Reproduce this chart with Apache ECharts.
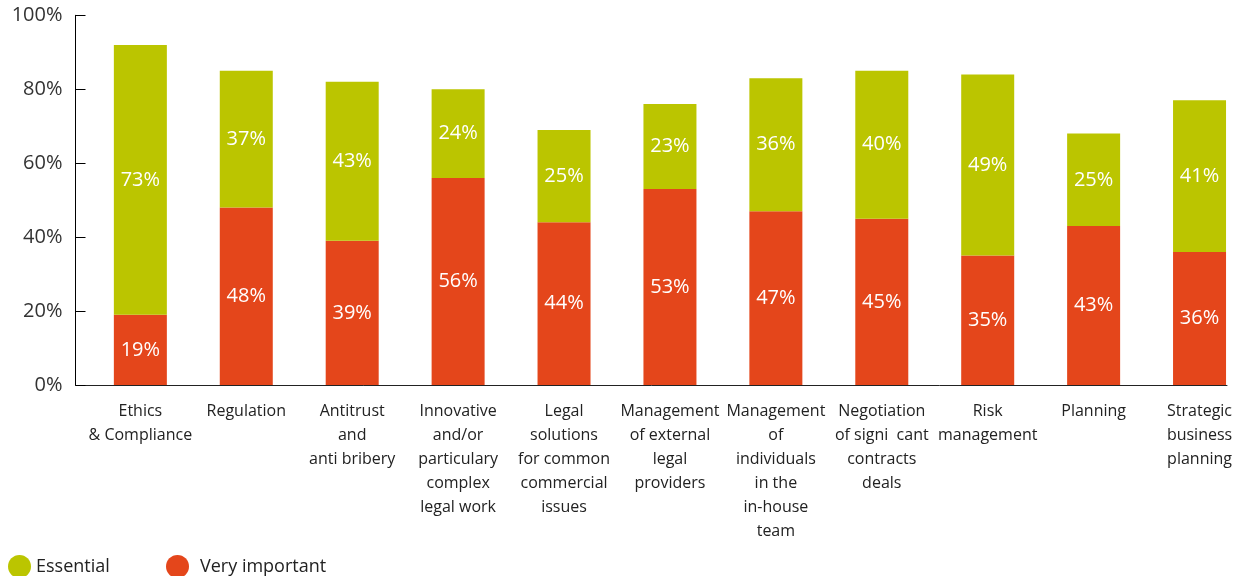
<!DOCTYPE html>
<html>
<head>
<meta charset="utf-8">
<script src="https://cdn.jsdelivr.net/npm/echarts@6/dist/echarts.min.js"></script>
<style>
html,body{margin:0;padding:0;background:#fff;}
#chart{width:1241px;height:576px;}
</style>
</head>
<body>
<div id="chart"></div>
<script>
var categories = [
  "Ethics\n& Compliance",
  "Regulation",
  "Antitrust\nand\nanti bribery",
  "Innovative\nand/or\nparticulary\ncomplex\nlegal work",
  "Legal\nsolutions\nfor common\ncommercial\nissues",
  "Management\nof external\nlegal\nproviders",
  "Management\nof\nindividuals\nin the\nin-house\nteam",
  "Negotiation\nof signi  cant\ncontracts\ndeals",
  "Risk\nmanagement",
  "Planning",
  "Strategic\nbusiness\nplanning"
];
var veryImportant = [19, 48, 39, 56, 44, 53, 47, 45, 35, 43, 36];
var essential = [73, 37, 43, 24, 25, 23, 36, 40, 49, 25, 41];
var yTicks = [0, 20, 40, 60, 80, 100];

var GREEN = '#bbc500';
var RED = '#e4461b';
var FONT = '"Open Sans", "Noto Sans", sans-serif';

var chart = echarts.init(document.getElementById('chart'), null, {renderer: 'canvas'});
var barLabel = {
  show: true, position: 'inside', color: '#fff',
  fontFamily: FONT, fontSize: 20, formatter: '{c}%'
};
var legendText = {fontSize: 18, color: '#222', fontFamily: FONT};
chart.setOption({
  animation: false,
  textStyle: {fontFamily: FONT},
  legend: [
    {
      data: ['Essential'], left: 3, top: 550,
      icon: 'circle', itemWidth: 23, itemHeight: 23,
      textStyle: legendText
    },
    {
      data: ['Very important'], left: 161, top: 550,
      icon: 'circle', itemWidth: 23, itemHeight: 23,
      textStyle: Object.assign({padding: [0, 0, 0, 6]}, legendText)
    }
  ],
  grid: [
    {left: 87.4, width: 1165.1, top: 15.3, height: 369.7, outerBoundsMode: 'none', containLabel: false},
    {left: 75.5, width: 1151.5, top: 15.3, height: 369.7, outerBoundsMode: 'none', containLabel: false}
  ],
  xAxis: [
    {
      type: 'category', gridIndex: 0, data: categories,
      axisLine: {show: false}, axisTick: {show: false},
      axisLabel: {
        interval: 0, margin: 14, fontSize: 16, lineHeight: 24,
        color: '#222', fontFamily: FONT, align: 'center'
      }
    },
    {
      type: 'value', gridIndex: 1, min: 0, max: 1,
      axisLine: {show: true, lineStyle: {color: '#222', width: 1}},
      axisTick: {show: false}, axisLabel: {show: false}, splitLine: {show: false}
    }
  ],
  yAxis: [
    {
      type: 'value', gridIndex: 0, min: 0, max: 100, interval: 20,
      show: false, splitLine: {show: false}
    },
    {
      type: 'value', gridIndex: 1, min: yTicks[0], max: yTicks[yTicks.length - 1], interval: 20,
      axisLine: {show: true, lineStyle: {color: '#000', width: 1}},
      axisTick: {show: true, inside: true, length: 10, lineStyle: {color: '#000'}},
      axisLabel: {formatter: '{value}%', fontSize: 20, color: '#333', margin: 13,
                  padding: [10, 0, 0, 0], fontFamily: FONT},
      splitLine: {show: false}
    }
  ],
  series: [
    {
      name: 'Very important', type: 'bar', stack: 'total',
      xAxisIndex: 0, yAxisIndex: 0,
      barWidth: 53, data: veryImportant,
      itemStyle: {color: RED}, label: barLabel
    },
    {
      name: 'Essential', type: 'bar', stack: 'total',
      xAxisIndex: 0, yAxisIndex: 0,
      barWidth: 53, data: essential,
      itemStyle: {color: GREEN}, label: barLabel
    }
  ]
});
</script>
</body>
</html>
